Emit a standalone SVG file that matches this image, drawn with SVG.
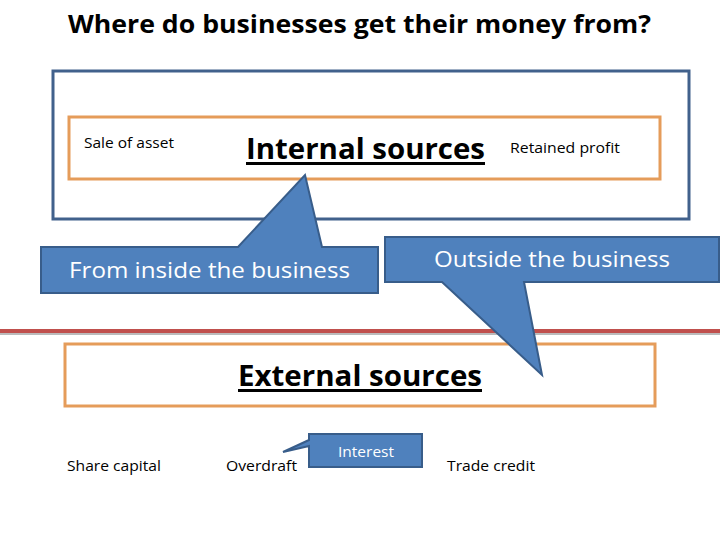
<svg xmlns="http://www.w3.org/2000/svg" width="720" height="540" viewBox="0 0 720 540">
<style>
.t{font-family:"Open Sans","Liberation Sans",sans-serif;fill:#000}
.w{font-family:"Open Sans","Liberation Sans",sans-serif;fill:#fff}
.call{fill:#4f81bd;stroke:#385d8a;stroke-width:2;stroke-linejoin:miter}
.org{fill:none;stroke:#e59c5a;stroke-width:3}
</style>
<rect width="720" height="540" fill="#fff"/>
<text class="t" x="68" y="33" font-size="25" font-weight="bold" textLength="583" lengthAdjust="spacingAndGlyphs">Where do businesses get their money from?</text>
<g id="internal-frame">
<rect x="53" y="71" width="636" height="148" fill="none" stroke="#41618c" stroke-width="3"/>
</g>
<g id="internal">
<rect class="org" x="69" y="117" width="591" height="62"/>
<text class="t" x="84" y="148" font-size="14" textLength="90" lengthAdjust="spacingAndGlyphs">Sale of asset</text>
<text class="t" x="246" y="159" font-size="29" font-weight="bold" textLength="239" lengthAdjust="spacingAndGlyphs">Internal sources</text>
<rect x="246" y="162" width="239" height="3" fill="#000"/>
<text class="t" x="510" y="153" font-size="14" textLength="110" lengthAdjust="spacingAndGlyphs">Retained profit</text>
</g>
<g id="divider">
<line x1="0" y1="334" x2="720" y2="334" stroke="#bbb" stroke-width="2"/>
<line x1="0" y1="331" x2="720" y2="331" stroke="#c0504d" stroke-width="4"/>
</g>
<g id="external">
<rect class="org" x="65" y="344" width="590" height="62"/>
<text class="t" x="238" y="386" font-size="29" font-weight="bold" textLength="244" lengthAdjust="spacingAndGlyphs">External sources</text>
<rect x="238" y="389" width="244" height="3" fill="#000"/>
</g>
<g id="connectors">
<g id="callout-inside">
<path class="call" d="M41,247 H238 L305,175 L322,247 H378 V293 H41 Z"/>
<text class="w" x="69" y="278" font-size="21" textLength="281" lengthAdjust="spacingAndGlyphs">From inside the business</text>
</g>
<g id="callout-outside">
<path class="call" d="M385,237 H719 V282 H524 L542,375 L442,282 H385 Z"/>
<text class="w" x="434" y="267" font-size="21" textLength="236" lengthAdjust="spacingAndGlyphs">Outside the business</text>
</g>
<g id="callout-interest">
<path class="call" d="M309,434 H422 V467 H309 V446 L283,452 L309,440 Z"/>
<text class="w" x="338" y="457" font-size="14" textLength="56" lengthAdjust="spacingAndGlyphs">Interest</text>
</g>
</g>
<g id="share-capital"><text class="t" x="67" y="471" font-size="15" textLength="94" lengthAdjust="spacingAndGlyphs">Share capital</text></g>
<g id="overdraft"><text class="t" x="226" y="471" font-size="15" textLength="71" lengthAdjust="spacingAndGlyphs">Overdraft</text></g>
<g id="trade-credit"><text class="t" x="447" y="471" font-size="15" textLength="88" lengthAdjust="spacingAndGlyphs">Trade credit</text></g>
</svg>
